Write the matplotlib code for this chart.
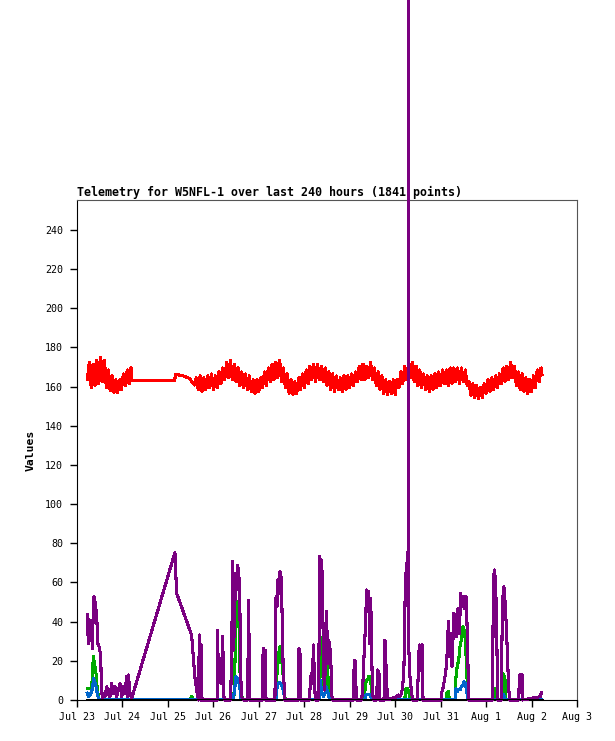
import numpy as np
import matplotlib
matplotlib.use("Agg")
import matplotlib.pyplot as plt

# valores (horas a partir de Jul 23 00:00)
title = "Telemetry for W5NFL-1 over last 240 hours (1841 points)"
day_labels = ["Jul 23", "Jul 24", "Jul 25", "Jul 26", "Jul 27", "Jul 28",
              "Jul 29", "Jul 30", "Jul 31", "Aug 1", "Aug 2", "Aug 3"]
y_ticks = [0, 20, 40, 60, 80, 100, 120, 140, 160, 180, 200, 220, 240]

# serie vermelha: trecho 1 (horario a partir de 5.5h), lacuna, trecho 2 (horario a partir de 63h)
red_seg1 = [163.5, 172.5, 159.5, 171.5, 160.5, 173.5, 161.5, 175, 162.5, 173.5, 159.5, 168.5,
            158, 165.5, 157, 163.5, 157, 163.5, 158.5, 166.5, 160.5, 168.5, 161.5, 169.5]
red_gap_hours = [29.0, 51.6, 52.0, 56.0, 59.5, 61.0, 62.0]
red_gap_vals = [163.1, 163.1, 166.3, 165.5, 164.2, 162.0, 160.8]
red_seg2 = [164.5, 158.5, 165.5, 157.5, 164.5, 158.5, 165.5, 159.5, 166.5, 158.5,
            165.5, 159.5, 167.5, 161.5, 169.5, 163.5, 172.5, 164.5, 173.5, 163.5,
            171.5, 162.5, 169.5, 160.5, 167.5, 159.5, 166.5, 158.5, 165.5, 157.5,
            163.5, 156.5, 163.5, 157.5, 164.5, 159.5, 167.5, 160.5, 169.5, 162.5,
            171.5, 163.5, 172.5, 164.5, 173.5, 162.5, 169.5, 159.5, 166.5, 156.5,
            163.5, 156, 162.5, 156.5, 164.5, 158.5, 166.5, 159.5, 168.5, 161.5,
            170.5, 163.5, 171.5, 162.5, 171.5, 163.5, 170.5, 162.5, 169.5, 160.5,
            167.5, 158.5, 166.5, 157.5, 165.5, 158.5, 164.5, 157.5, 165.5, 158.5,
            165.5, 159.5, 166.5, 160.5, 167.5, 162.5, 170.5, 163.5, 171.5, 163.5,
            170.5, 164.5, 172.5, 163.5, 169.5, 160.5, 167.5, 158.5, 165.5, 156.5,
            163.5, 156, 162.5, 156.5, 163.5, 156, 163.5, 159.5, 167.5, 161.5,
            170.5, 163.5, 171.5, 164.5, 172.5, 162.5, 170.5, 160.5, 168.5, 159.5,
            166.5, 158.5, 165.5, 157.5, 165.5, 158.5, 166.5, 159.5, 167.5, 160.5,
            168.5, 161.5, 168.5, 160.5, 169.5, 161.5, 169.5, 162.5, 169.5, 161.5,
            169.5, 162.5, 168.5, 160.5, 162.5, 155.5, 161.5, 154.5, 160.5, 154,
            159.5, 154.5, 161.5, 156.5, 163.5, 157.5, 164.5, 158.5, 165.5, 159.5,
            166.5, 161.5, 169.5, 162.5, 170.5, 163.5, 172.5, 164.5, 170.5, 160.5,
            167.5, 158.5, 166.5, 157.5, 164.5, 156.5, 163.5, 157.5, 165.5, 159.5,
            168.5, 162.5, 169.5]
red_end_hour, red_end_val = 245.5, 166

purple_hours = [5.46, 5.98, 6.51, 7.21, 7.74, 8.1, 8.62, 8.98, 9.5, 10.03, 10.38, 10.9,
                11.44, 12.14, 12.5, 12.85, 13.4, 13.9, 14.8, 15.7, 16.5, 17.4, 18.3, 19.2,
                20.1, 20.95, 21.8, 22.7, 23.6, 24.5, 25.3, 26.2, 26.7, 27.1, 28.0, 28.9,
                51.7, 52.1, 52.6, 60.5, 61.4, 62.3, 63.2, 64.1, 64.6, 65.1, 65.5, 66.0,
                74.0, 74.1, 74.8, 75.5, 76.2, 76.9, 77.6, 78.1,
                81.1, 81.7, 82.2, 82.7, 83.2, 83.8, 84.3, 84.8, 85.4, 85.9, 86.4, 86.9, 87.8,
                90.1, 90.6, 91.2, 97.7, 98.3, 98.8, 99.3, 99.8,
                104.5, 105.1, 105.6, 106.1, 106.6, 107.2, 107.7, 108.2, 108.8, 109.3, 109.8,
                116.7, 117.2, 117.7, 118.1,
                122.7, 123.2, 123.7, 124.3, 124.8, 125.3, 125.8,
                127.6, 128.1, 128.7, 129.2, 129.7, 130.2, 130.8, 131.3, 131.8, 132.3, 132.9,
                133.4, 133.9, 134.5, 135.0,
                145.9, 146.4, 146.9, 147.5,
                150.3, 150.8, 151.6, 152.3, 152.9, 153.5, 154.0, 154.5, 155.1, 155.6, 156.1, 156.6,
                158.2, 158.7, 159.4, 160.0, 162.1, 162.6, 163.3, 163.9,
                168.8, 169.7, 170.5, 171.4, 172.0, 172.6, 173.4, 174.85, 174.9, 174.95, 175.8,
                176.5, 177.2,
                179.7, 180.2, 180.7, 181.5, 182.2, 182.7,
                192.3, 192.5, 193.4, 194.3, 195.2, 196.1, 196.6, 197.3, 198.0, 199.0, 199.8,
                200.5, 201.2, 201.9, 202.6, 203.3, 204.0, 204.7, 205.4, 206.1, 206.8,
                219.3, 219.5, 219.8, 220.3, 221.0, 221.6, 222.1,
                224.0, 224.2, 224.7, 225.4, 226.2, 226.9, 227.7, 228.3,
                233.3, 233.5, 234.2, 235.0, 235.3, 244.5, 245.3]
purple_vals = [43.4, 28.9, 40.9, 30.6, 39.1, 26.4, 46.8, 52.8, 50.2, 46.0, 44.3, 28.9,
               28.1, 24.7, 23.8, 6.8, 0.9, 3.4, 1.7, 6.8, 3.4, 1.7, 8.5, 3.4,
               6.8, 1.7, 5.1, 8.5, 1.7, 6.8, 3.4, 11.9, 1.7, 12.8, 3.4, 0.9,
               75.2, 65.5, 54.5, 33.2, 22.1, 11.1, 5.1, 0.0, 33.2, 0.0, 28.1, 0.0,
               0.0, 35.7, 10.2, 9.4, 8.5, 32.3, 1.7, 0.0,
               0.0, 25.5, 70.6, 25.5, 44.3, 64.7, 56.2, 68.9, 64.7, 56.2, 13.6, 1.7, 0.0,
               0.0, 50.7, 0.0, 0.0, 26.4, 11.9, 25.5, 0.0,
               0.0, 52.8, 47.7, 61.3, 54.5, 65.5, 63.0, 47.7, 18.7, 8.5, 0.0,
               0.0, 26.4, 25.5, 0.0,
               0.0, 8.5, 13.6, 8.5, 28.1, 13.6, 0.0,
               0.0, 73.2, 61.3, 71.5, 52.8, 13.6, 5.1, 35.7, 45.1, 18.7, 30.6,
               27.2, 24.7, 2.6, 0.0,
               0.0, 20.4, 19.6, 0.0,
               0.0, 5.1, 23.8, 37.4, 56.2, 46.0, 55.3, 28.9, 51.9, 22.1, 3.4, 0.0,
               0.0, 15.3, 14.5, 0.0, 0.0, 30.6, 14.5, 0.0,
               1.7, 2.6, 1.7, 3.4, 7.7, 15.3, 61.3, 76.6, 100000.0, 32.3, 11.9,
               5.1, 0.0,
               0.0, 13.6, 28.1, 15.3, 28.1, 0.0,
               0.0, 3.4, 6.8, 11.9, 18.7, 40.0, 22.1, 34.0, 17.0, 44.3, 37.4,
               32.3, 46.8, 34.0, 54.5, 47.7, 52.8, 46.8, 52.8, 34.0, 0.0,
               0.0, 13.6, 57.0, 66.4, 61.3, 35.7, 0.0,
               0.0, 18.7, 51.1, 57.9, 47.7, 32.3, 11.9, 0.0,
               0.0, 11.9, 13.1, 12.8, 0.0, 1.7, 3.9]

green_hours = [5.46, 7.74, 8.1, 8.62, 9.15, 9.5, 10.03, 10.73, 11.79,
               59.6, 60.5, 61.4,
               81.7, 82.2, 83.0, 83.8, 84.5, 85.0, 85.5, 86.0, 86.7, 87.3,
               98.0, 98.3, 98.8,
               105.1, 105.6, 106.3, 106.8, 107.4, 107.9, 108.4, 108.9, 109.5, 110.0,
               127.8, 128.3, 128.8, 129.4, 129.9, 130.4, 130.9, 131.5, 132.0, 132.5, 133.0, 133.6,
               151.2, 151.9, 152.6, 153.3, 154.0, 154.7, 155.4, 155.9,
               173.0, 173.7, 174.6, 175.3, 176.0,
               195.0, 195.2, 196.1, 196.6,
               199.6, 200.1, 200.8, 201.5, 202.2, 202.9, 203.7, 204.4, 205.1, 205.8, 206.5,
               220.5, 221.0, 221.6, 224.7, 225.3, 226.0, 226.5, 245.3]
green_vals = [6.0, 6.0, 11.9, 22.1, 18.7, 17.0, 13.6, 5.1, 0.0,
              0.0, 2.0, 0.0,
              0.0, 3.4, 2.6, 35.7, 42.5, 50.2, 42.5, 15.3, 5.1, 0.0,
              0.0, 2.2, 0.0,
              0.0, 13.6, 20.4, 26.4, 27.2, 22.1, 17.0, 11.9, 3.4, 0.0,
              0.0, 32.3, 18.7, 11.9, 25.5, 6.8, 6.8, 22.1, 27.2, 11.9, 5.1, 0.0,
              0.0, 3.4, 9.4, 10.2, 11.9, 11.9, 6.8, 0.0,
              0.0, 6.0, 6.0, 3.4, 0.0,
              0.0, 3.4, 4.3, 0.0,
              0.0, 11.9, 17.9, 19.6, 27.2, 30.6, 37.4, 35.7, 30.6, 13.6, 0.0,
              0.0, 6.0, 0.0, 0.0, 13.3, 10.2, 0.0, 0.0]

blue_hours = [5.46, 6.2, 6.86, 7.74, 8.27, 8.8, 9.3, 9.85, 10.38, 10.9, 11.44,
              82.5, 83.2, 83.9, 84.6, 85.4, 86.1, 86.7,
              105.1, 105.6, 106.3, 107.0, 107.7, 108.4, 109.1, 109.8,
              127.8, 128.3, 128.8, 129.4, 130.1, 130.9, 131.6, 132.3, 133.0, 133.6,
              152.1, 152.6, 154.7, 155.6,
              199.6, 200.1, 200.8, 201.5, 202.2, 202.9, 203.7, 204.4, 205.1, 205.8, 206.5,
              224.7, 225.3, 226.0, 245.3]
blue_vals = [3.4, 1.7, 2.6, 4.3, 6.8, 11.1, 9.4, 7.7, 5.1, 2.6, 0.0,
             0.0, 5.1, 11.9, 11.1, 9.4, 5.1, 0.0,
             0.0, 6.0, 8.5, 8.8, 8.2, 6.8, 4.3, 0.0,
             0.0, 10.2, 6.8, 3.4, 1.7, 3.4, 6.8, 4.3, 1.7, 0.0,
             0.0, 2.9, 2.9, 0.0,
             0.0, 6.0, 4.3, 5.5, 5.1, 6.8, 7.7, 9.4, 8.5, 4.3, 0.0,
             0.0, 3.0, 0.0, 0.0]

black_hours = [5.46, 245.3]
black_vals = [0.0, 0.0]

red_hours = (list(np.arange(len(red_seg1)) + 5.5) + red_gap_hours
             + list(np.arange(len(red_seg2)) + 63.0) + [red_end_hour])
red_vals = red_seg1 + red_gap_vals + red_seg2 + [red_end_val]

mono = "DejaVu Sans Mono"
fig = plt.figure(figsize=(6.15, 7.41), dpi=100)
ax = fig.add_axes([77 / 615, 41 / 741, 500 / 615, 500 / 741])

lw = 1.5
ax.plot(red_hours, red_vals, color="#ff0000", lw=lw, antialiased=False, zorder=2)
ax.plot(green_hours, green_vals, color="#00aa00", lw=lw, antialiased=False, zorder=3)
ax.plot(blue_hours, blue_vals, color="#0066cc", lw=lw, antialiased=False, zorder=4)
ax.plot(purple_hours, purple_vals, color="#7a0080", lw=lw, antialiased=False,
        zorder=5, clip_on=False)
ax.plot(black_hours, black_vals, color="black", lw=2.0, antialiased=False, zorder=6)

ax.set_xlim(0, 264)
ax.set_ylim(0, 255.3)
ax.set_xticks(np.arange(len(day_labels)) * 24)
ax.set_xticklabels(day_labels)
ax.set_yticks(y_ticks)
ax.tick_params(axis="both", direction="out", length=5, width=1, labelsize=7.2)
ax.tick_params(axis="x", pad=4)
ax.tick_params(axis="y", pad=5)
for lab in ax.get_xticklabels() + ax.get_yticklabels():
    lab.set_family(mono)

ax.spines["left"].set_color("black")
ax.spines["bottom"].set_color("black")
ax.spines["top"].set_color("#555555")
ax.spines["right"].set_color("#555555")

ax.set_title(title, loc="left", fontsize=8.4, fontweight="bold", family=mono, pad=3)
ax.set_ylabel("Values", fontsize=8.2, fontweight="bold", family=mono, labelpad=7)

plt.savefig("out.png", dpi=100)
